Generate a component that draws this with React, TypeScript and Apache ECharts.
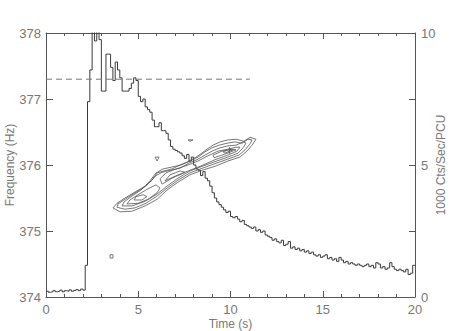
import React, { useEffect, useRef } from "react";
import * as echarts from "echarts";

// Light curve: counts (1000 Cts/Sec/PCU) in 0.125 s bins starting at t = 0
const binWidth = 0.125;
const counts: number[] = [
  0.22, 0.18, 0.2, 0.24, 0.2, 0.22, 0.26, 0.2, 0.24, 0.22, 0.27, 0.22, 0.25, 0.28, 0.24, 0.3, 0.26,
  1.2, 7.4, 8.6, 10.3, 9.7, 10.3, 9.75, 7.8, 7.8, 9.2, 9.2, 8.7, 8.2,
  8.9, 8.6, 8.3, 7.8, 7.8, 7.8, 7.9, 8.1, 8.3, 8.2,
  7.6, 7.4, 7.5, 7.2, 7.1, 7.0, 6.7, 6.45, 6.45, 6.6,
  6.3, 6.3, 6.2, 5.95, 5.7, 5.6, 5.55, 5.5, 5.45, 5.35,
  5.25, 5.4, 5.15, 5.3, 5.0, 4.85, 4.8, 4.6, 4.75, 4.5,
  4.4, 4.2, 3.95, 3.75, 3.6, 3.5, 3.4, 3.3, 3.2, 3.25,
  3.05, 3.0, 3.05, 2.95, 2.85, 2.9, 2.75, 2.7, 2.65, 2.6,
  2.65, 2.5, 2.55, 2.45, 2.5, 2.35, 2.3, 2.25, 2.15, 2.2,
  2.1, 2.05, 2.15, 1.95, 2.0, 2.1, 1.85, 1.9, 1.8, 1.85,
  1.75, 1.8, 1.7, 1.75, 1.65, 1.7, 1.6, 1.55, 1.6, 1.5,
  1.55, 1.6, 1.45, 1.5, 1.4, 1.45, 1.35, 1.5, 1.4, 1.3,
  1.35, 1.25, 1.3, 1.25, 1.2, 1.25, 1.2, 1.15, 1.2, 1.25,
  1.15, 1.2, 1.1, 1.3, 1.25, 1.1, 1.15, 1.05, 1.1, 1.3,
  1.15, 1.05, 1.0, 1.05, 1.0, 0.95, 1.05, 0.85, 0.9, 1.2,
];

// Reference frequency (dashed line)
const refFreq = 377.3;
const refStart = 0;
const refEnd = 11.05;

// Contours of oscillation power: [time (s), frequency (Hz)]
const contour1: number[][] = [
  [3.63, 375.35], [4.01, 375.29], [4.66, 375.3], [5.37, 375.38], [6.02, 375.48], [6.56, 375.62],
  [7.15, 375.74], [7.8, 375.85], [8.46, 375.92], [9.16, 375.98], [9.86, 376.06], [10.51, 376.12],
  [10.89, 376.21], [11.17, 376.3], [11.38, 376.39], [11.06, 376.42], [10.73, 376.36], [10.3, 376.39],
  [9.86, 376.38], [9.43, 376.35], [9.05, 376.3], [8.73, 376.24], [8.4, 376.17], [8.08, 376.11],
  [7.7, 376.05], [7.26, 376.0], [6.83, 375.94], [6.4, 375.91], [6.02, 375.88], [5.75, 375.77],
  [5.37, 375.68], [4.82, 375.59], [4.28, 375.5], [3.85, 375.42], [3.63, 375.35],
];
const contour2: number[][] = [
  [3.85, 375.36], [4.28, 375.33], [4.82, 375.35], [5.42, 375.42], [6.02, 375.53], [6.56, 375.65],
  [7.15, 375.77], [7.8, 375.88], [8.46, 375.95], [9.16, 376.02], [9.86, 376.09], [10.46, 376.15],
  [10.79, 376.23], [11.06, 376.32], [11.17, 376.38], [10.95, 376.39], [10.62, 376.33], [10.24, 376.35],
  [9.81, 376.33], [9.38, 376.3], [9.0, 376.26], [8.62, 376.2], [8.24, 376.12], [7.8, 376.06],
  [7.32, 376.0], [6.83, 375.97], [6.34, 375.94], [5.96, 375.88], [5.64, 375.76], [5.26, 375.65],
  [4.72, 375.56], [4.23, 375.47], [3.9, 375.41], [3.85, 375.36],
];
const contour3: number[][] = [
  [4.12, 375.38], [4.66, 375.38], [5.37, 375.45], [6.02, 375.56], [6.56, 375.68], [7.15, 375.8],
  [7.8, 375.91], [8.46, 375.98], [9.16, 376.05], [9.86, 376.12], [10.41, 376.18], [10.68, 376.26],
  [10.84, 376.33], [10.68, 376.35], [10.3, 376.3], [9.86, 376.29], [9.43, 376.26], [9.0, 376.21],
  [8.62, 376.15], [8.18, 376.08], [7.75, 376.03], [7.26, 375.95], [6.72, 375.92], [6.29, 375.89],
  [5.91, 375.83], [5.53, 375.71], [5.09, 375.61], [4.61, 375.52], [4.23, 375.44], [4.12, 375.38],
];
const contour4a: number[][] = [
  [4.39, 375.41], [4.99, 375.42], [5.53, 375.48], [6.02, 375.58], [6.18, 375.65], [5.96, 375.7],
  [5.53, 375.64], [4.99, 375.55], [4.55, 375.47], [4.39, 375.41],
];
const contour4b: number[][] = [
  [6.29, 375.71], [6.83, 375.8], [7.53, 375.89], [8.35, 375.98], [9.16, 376.08], [9.86, 376.15],
  [10.35, 376.21], [10.51, 376.27], [10.3, 376.27], [9.86, 376.24], [9.32, 376.21], [8.78, 376.14],
  [8.24, 376.06], [7.7, 376.0], [7.05, 375.94], [6.5, 375.88], [6.18, 375.79], [6.29, 375.71],
];
const contour5a: number[][] = [
  [4.77, 375.47], [5.2, 375.47], [5.47, 375.52], [5.26, 375.55], [4.88, 375.52], [4.77, 375.47],
];
const contour5b: number[][] = [
  [6.45, 375.76], [6.99, 375.83], [7.53, 375.89], [7.26, 375.91], [6.72, 375.85], [6.45, 375.76],
];
const contour5c: number[][] = [
  [9.11, 376.11], [9.75, 376.17], [10.3, 376.23], [10.08, 376.24], [9.54, 376.21], [9.05, 376.15], [9.11, 376.11],
];
const contour6: number[][] = [
  [9.7, 376.18], [10.13, 376.23], [9.92, 376.23], [9.59, 376.2], [9.7, 376.18],
];
const peakMark: number[][] = [[9.95, 376.27], [9.95, 376.17]];
const island1: number[][] = [[5.91, 376.12], [6.13, 376.12], [6.02, 376.06], [5.91, 376.12]];
const island2: number[][] = [[7.7, 376.38], [7.97, 376.38], [7.8, 376.36], [7.7, 376.38]];
const island3: number[][] = [[3.47, 374.64], [3.63, 374.64], [3.63, 374.59], [3.47, 374.59], [3.47, 374.64]];

const contours = [
  contour1, contour2, contour3, contour4a, contour4b, contour5a, contour5b, contour5c,
  contour6, peakMark, island1, island2, island3,
];

const axisColor = "#555";
const textColor = "#777";
const font = "Liberation Sans";

export default function App() {
  const ref = useRef<HTMLDivElement>(null);
  useEffect(() => {
    if (!ref.current) return;
    const chart = echarts.init(ref.current, undefined, { renderer: "svg" });
    const lc = counts.map((c, i) => [i * binWidth, c]);
    lc.push([20, counts[counts.length - 1]]);
    const axisLine = { show: true, onZero: false, lineStyle: { color: axisColor, width: 1 } };
    const series: any[] = [
      {
        type: "line",
        xAxisIndex: 0,
        yAxisIndex: 1,
        step: "end",
        data: lc,
        showSymbol: false,
        symbol: "none",
        lineStyle: { color: "#3a3a3a", width: 1 },
        silent: true,
      },
      {
        type: "line",
        xAxisIndex: 0,
        yAxisIndex: 0,
        data: [[refStart, refFreq], [refEnd, refFreq]],
        symbol: "none",
        lineStyle: { color: "#777", width: 1, type: [6, 4] },
        silent: true,
      },
      ...contours.map((c) => ({
        type: "line",
        xAxisIndex: 0,
        yAxisIndex: 0,
        data: c,
        symbol: "none",
        lineStyle: { color: "#555", width: 0.8 },
        silent: true,
      })),
    ];
    chart.setOption({
      animation: false,
      grid: { left: 46, right: 48, top: 33, bottom: 34, outerBoundsMode: "none", containLabel: false },
      xAxis: [
        {
          type: "value",
          position: "bottom",
          min: 0,
          max: 20,
          interval: 5,
          name: "Time (s)",
          nameLocation: "middle",
          nameGap: 21,
          nameMoveOverlap: false,
          nameTextStyle: { color: textColor, fontFamily: font, fontSize: 12 },
          axisLine,
          axisTick: { show: true, inside: true, length: 6, lineStyle: { color: axisColor } },
          minorTick: { show: true, splitNumber: 5, length: 3, lineStyle: { color: axisColor } },
          axisLabel: { color: textColor, fontFamily: font, fontSize: 13, margin: 6 },
          splitLine: { show: false },
        },
        {
          type: "value",
          position: "top",
          min: 0,
          max: 20,
          interval: 5,
          axisLine,
          axisTick: { show: true, inside: true, length: 6, lineStyle: { color: axisColor } },
          minorTick: { show: true, splitNumber: 5, length: 3, lineStyle: { color: axisColor } },
          axisLabel: { show: false },
          splitLine: { show: false },
        },
      ],
      yAxis: [
        {
          type: "value",
          position: "left",
          min: 374,
          max: 378,
          interval: 1,
          name: "Frequency (Hz)",
          nameLocation: "middle",
          nameGap: 30,
          nameMoveOverlap: false,
          nameTextStyle: { color: textColor, fontFamily: font, fontSize: 12 },
          axisLine,
          axisTick: { show: true, inside: true, length: 7, lineStyle: { color: axisColor } },
          axisLabel: { color: textColor, fontFamily: font, fontSize: 13, margin: 5 },
          splitLine: { show: false },
        },
        {
          type: "value",
          position: "right",
          min: 0,
          max: 10,
          interval: 2.5,
          name: "1000 Cts/Sec/PCU",
          nameLocation: "middle",
          nameGap: 20,
          nameMoveOverlap: false,
          nameTextStyle: { color: textColor, fontFamily: font, fontSize: 12 },
          axisLine,
          axisTick: { show: true, inside: true, length: 6, lineStyle: { color: axisColor } },
          axisLabel: {
            color: textColor,
            fontFamily: font,
            fontSize: 13,
            margin: 6,
            formatter: (v: number) => (v % 5 === 0 ? String(v) : ""),
          },
          splitLine: { show: false },
        },
      ],
      series,
    });
    return () => chart.dispose();
  }, []);
  return <div ref={ref} style={{ width: 463, height: 331, position: "absolute", left: 0, top: 0 }} />;
}
